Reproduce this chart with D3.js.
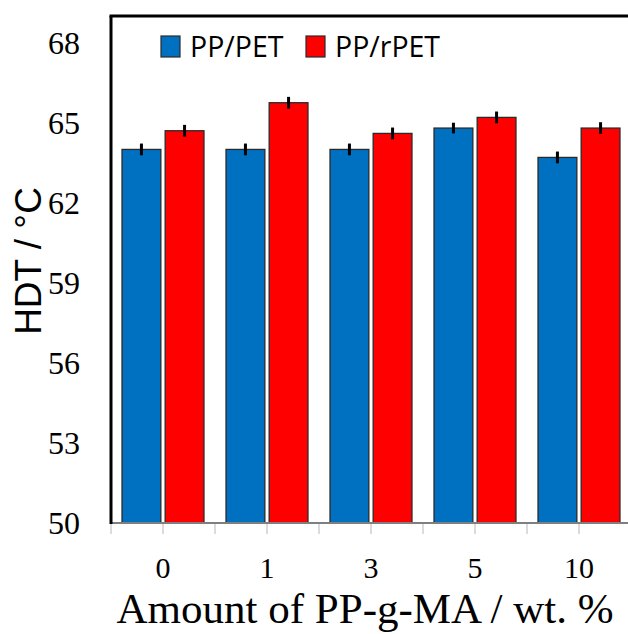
<!DOCTYPE html>
<html>
<head>
<meta charset="utf-8">
<script src="https://cdn.jsdelivr.net/npm/d3@7"></script>
<style>
  html, body { margin: 0; padding: 0; background: #fff; }
  svg { display: block; }
</style>
</head>
<body>
<svg id="chart" width="628" height="634"></svg>
<script>
const categories = ["0", "1", "3", "5", "10"];
const seriesNames = ["PP/PET", "PP/rPET"];
const ppPET = [64.0, 64.0, 64.0, 64.8, 63.7];
const ppRPET = [64.7, 65.75, 64.6, 65.2, 64.8];
const ppPETErr = [0.22, 0.22, 0.22, 0.2, 0.22];
const ppRPETErr = [0.22, 0.22, 0.22, 0.22, 0.22];
const yTicks = [50, 53, 56, 59, 62, 65, 68];
const colors = ["#0070C0", "#FF0000"];

(function () {
const svg = d3.select("#chart");
const mLeft = 111, mRight = 631, mTop = 16, mBottom = 523;

const x = d3.scaleBand().domain(categories).range([mLeft, mRight]).padding(0);
const bw = x.bandwidth();
const x1 = d3.scaleBand().domain(seriesNames).range([bw * 0.106, bw * 0.894]).paddingInner(0.1);
const y = d3.scaleLinear().domain([50, 69]).range([mBottom, mTop]);

const data = categories.map((c, i) => ({
  cat: c,
  vals: [
    { s: seriesNames[0], v: ppPET[i], e: ppPETErr[i], c: colors[0] },
    { s: seriesNames[1], v: ppRPET[i], e: ppRPETErr[i], c: colors[1] }
  ]
}));

// x ticks (gray) at group boundaries and centers
const tickXs = [];
categories.forEach(c => { tickXs.push(x(c)); tickXs.push(x(c) + bw / 2); });
tickXs.push(mRight);
svg.append("g").selectAll("line").data(tickXs).join("line")
  .attr("x1", d => d).attr("x2", d => d)
  .attr("y1", mBottom).attr("y2", mBottom + 11)
  .attr("stroke", "#cfcfcf").attr("stroke-width", 1.5);

// bars
const groups = svg.append("g").selectAll("g").data(data).join("g")
  .attr("transform", d => `translate(${x(d.cat)},0)`);
groups.selectAll("rect").data(d => d.vals).join("rect")
  .attr("x", d => x1(d.s))
  .attr("width", x1.bandwidth())
  .attr("y", d => y(d.v))
  .attr("height", d => y(50) - y(d.v))
  .attr("fill", d => d.c)
  .attr("stroke", "#2a2a2a").attr("stroke-width", 1.3);
groups.selectAll("line.err").data(d => d.vals).join("line")
  .attr("class", "err")
  .attr("x1", d => x1(d.s) + x1.bandwidth() / 2)
  .attr("x2", d => x1(d.s) + x1.bandwidth() / 2)
  .attr("y1", d => y(d.v + d.e))
  .attr("y2", d => y(d.v - d.e))
  .attr("stroke", "#000").attr("stroke-width", 3);

// bottom axis line (gray)
svg.append("line").attr("x1", mLeft).attr("x2", mRight).attr("y1", mBottom).attr("y2", mBottom)
  .attr("stroke", "#7f7f7f").attr("stroke-width", 1.8);
// top border
svg.append("line").attr("x1", mLeft - 1.5).attr("x2", mRight).attr("y1", mTop).attr("y2", mTop)
  .attr("stroke", "#000").attr("stroke-width", 3);
// left axis line
svg.append("line").attr("x1", mLeft).attr("x2", mLeft).attr("y1", mTop).attr("y2", mBottom + 1)
  .attr("stroke", "#000").attr("stroke-width", 3);

// y tick labels
svg.append("g").selectAll("text").data(yTicks).join("text")
  .attr("x", 80).attr("y", d => y(d))
  .attr("dy", "0.35em")
  .attr("text-anchor", "end")
  .attr("font-family", "'Liberation Serif', 'Times New Roman', serif")
  .attr("font-size", 32)
  .attr("fill", "#000")
  .text(d => d);

// x tick labels
svg.append("g").selectAll("text").data(categories).join("text")
  .attr("x", d => x(d) + bw / 2).attr("y", 578)
  .attr("text-anchor", "middle")
  .attr("font-family", "'Liberation Serif', 'Times New Roman', serif")
  .attr("font-size", 30)
  .attr("fill", "#000")
  .text(d => d);

// x title
svg.append("text")
  .attr("x", 365).attr("y", 623)
  .attr("text-anchor", "middle")
  .attr("font-family", "'Liberation Serif', 'Times New Roman', serif")
  .attr("font-size", 43)
  .attr("fill", "#000")
  .text("Amount of PP-g-MA / wt. %");

// y title
svg.append("text")
  .attr("transform", "translate(41,261) rotate(-90)")
  .attr("text-anchor", "middle")
  .attr("font-family", "'Liberation Sans', Arial, sans-serif")
  .attr("font-size", 37)
  .attr("fill", "#000")
  .text("HDT / °C");

// legend
const legendX = [161, 306];
const leg = svg.append("g").selectAll("g").data(seriesNames).join("g")
  .attr("transform", (d, i) => `translate(${legendX[i]},36)`);
leg.append("rect").attr("x", 0).attr("y", 0).attr("width", 19).attr("height", 21)
  .attr("fill", (d, i) => colors[i]).attr("stroke", "#2a2a2a").attr("stroke-width", 1.2);
leg.append("text").attr("x", 29).attr("y", 21)
  .attr("font-family", "'Open Sans', 'Noto Sans', sans-serif")
  .attr("font-size", 28.5)
  .attr("fill", "#000")
  .text(d => d);
})();
</script>
</body>
</html>
